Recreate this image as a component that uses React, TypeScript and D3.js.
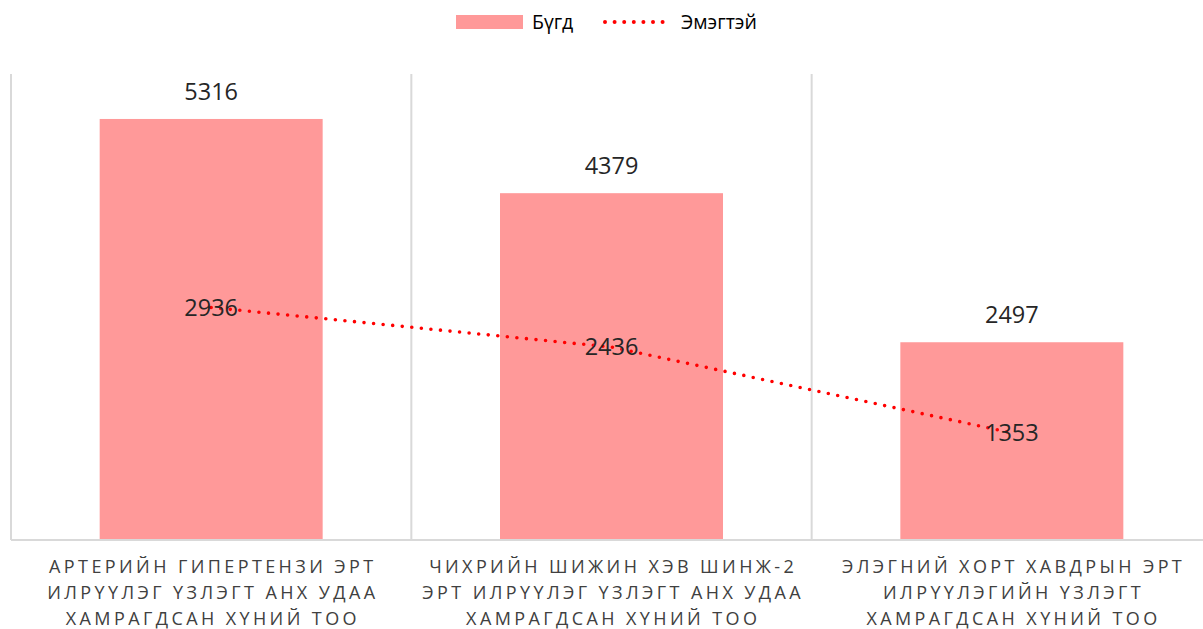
import React from 'react';
import * as d3 from 'd3';

// categories, one array of lines each (the labels wrap in three lines)
const categories: string[][] = [
  ['АРТЕРИЙН ГИПЕРТЕНЗИ ЭРТ', 'ИЛРҮҮЛЭГ ҮЗЛЭГТ АНХ УДАА', 'ХАМРАГДСАН ХҮНИЙ ТОО'],
  ['ЧИХРИЙН ШИЖИН ХЭВ ШИНЖ-2', 'ЭРТ ИЛРҮҮЛЭГ ҮЗЛЭГТ АНХ УДАА', 'ХАМРАГДСАН ХҮНИЙ ТОО'],
  ['ЭЛЭГНИЙ ХОРТ ХАВДРЫН ЭРТ', 'ИЛРҮҮЛЭГИЙН ҮЗЛЭГТ', 'ХАМРАГДСАН ХҮНИЙ ТОО'],
];
const totalValues = [5316, 4379, 2497];   // Бүгд
const femaleValues = [2936, 2436, 1353];  // Эмэгтэй
const seriesNames = ['Бүгд', 'Эмэгтэй'];

const W = 1203;
const H = 629;
const FONT = '"Open Sans", "Noto Sans", sans-serif';
const BAR = '#FF9999';
const LINE = '#FF0000';
const GRID = '#D9D9D9';

export default function App() {
  const left = 11;
  const right = 1212;
  const base = 540;
  const gridTop = 74;

  const x = d3.scaleBand<number>()
    .domain(d3.range(categories.length))
    .range([left, right])
    .padding(0);
  const barW = x.bandwidth() * 0.557;
  const y = d3.scaleLinear().domain([0, 6000]).range([base, base - 6000 * 0.0792]);

  const cx = (i: number) => (x(i) as number) + x.bandwidth() / 2;

  const linePath = d3.line<number>()
    .x((_, i) => cx(i))
    .y(d => y(d))(femaleValues) as string;

  const bounds = d3.range(categories.length + 1).map(i => left + i * x.bandwidth());

  return (
    <svg width={W} height={H} style={{ position: 'absolute', left: 0, top: 0, background: '#fff' }}
      fontFamily={FONT}>
      {/* legend */}
      <g>
        <rect x={456} y={15} width={67} height={14} fill={BAR} />
        <text x={532} y={22} dy="0.35em" fontSize={19.5} fill="#000">{seriesNames[0]}</text>
        <line x1={605} x2={665} y1={22} y2={22} stroke={LINE} strokeWidth={4}
          strokeLinecap="round" strokeDasharray="0 9.6" />
        <text x={681} y={22} dy="0.35em" fontSize={19.5} fill="#000">{seriesNames[1]}</text>
      </g>

      {/* vertical category gridlines */}
      {bounds.map((b, i) => (
        <line key={i} x1={b} x2={b} y1={gridTop} y2={base} stroke={GRID} strokeWidth={2} />
      ))}

      {/* bars */}
      {totalValues.map((v, i) => (
        <rect key={i} x={cx(i) - barW / 2} y={y(v)} width={barW} height={base - y(v)} fill={BAR} />
      ))}

      {/* baseline */}
      <line x1={left} x2={right} y1={base} y2={base} stroke={GRID} strokeWidth={2} />

      {/* bar value labels */}
      {totalValues.map((v, i) => (
        <text key={i} x={cx(i)} y={y(v) - 27} dy="0.35em" textAnchor="middle" fontSize={23.5} fill="#262626">
          {v}
        </text>
      ))}

      {/* female line */}
      <path d={linePath} fill="none" stroke={LINE} strokeWidth={3.6}
        strokeLinecap="round" strokeDasharray="0 9.6" />
      {femaleValues.map((v, i) => (
        <text key={i} x={cx(i)} y={y(v)} dy="0.35em" textAnchor="middle" fontSize={23.5} fill="#262626">
          {v}
        </text>
      ))}

      {/* category labels */}
      {categories.map((lines, i) => (
        <text key={i} x={cx(i)} textAnchor="middle" fontSize={18} fill="#404040" letterSpacing={3.4}>
          {lines.map((l, j) => (
            <tspan key={j} x={cx(i) + 1.7} y={567 + j * 26} dy="0.35em">{l}</tspan>
          ))}
        </text>
      ))}
    </svg>
  );
}
